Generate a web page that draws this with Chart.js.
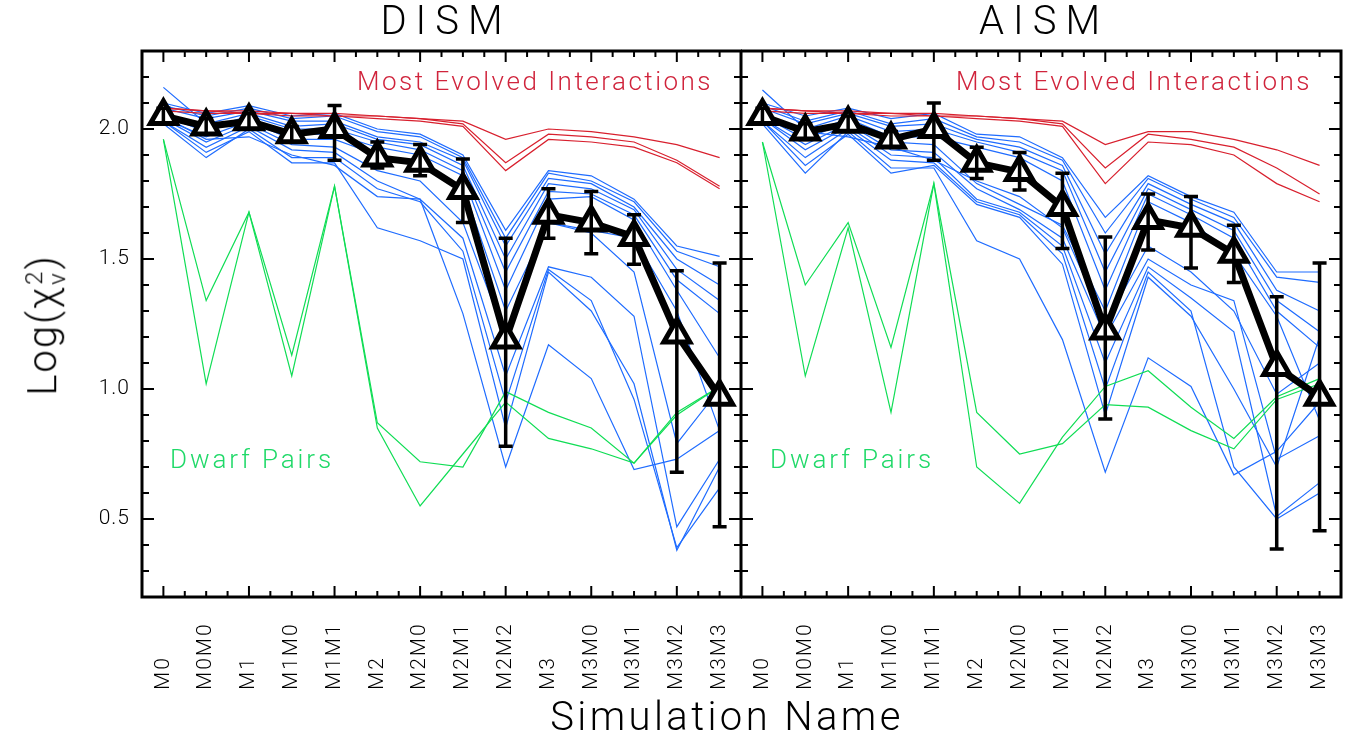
<!DOCTYPE html>
<html>
<head>
<meta charset="utf-8">
<title>Log(χ²ν) by simulation</title>
<script src="https://cdn.jsdelivr.net/npm/chart.js@4.4.1/dist/chart.umd.min.js"></script>
<style>
  html, body { margin: 0; padding: 0; background: #fff; }
  #wrap { position: relative; width: 1345px; height: 738px; overflow: hidden;
          font-family: Roboto, "Open Sans", "DejaVu Sans", sans-serif; font-weight: 300; color: #000; }
  canvas { position: absolute; top: 0; }
  #cL { left: 0; }
  #cR { left: 741px; }
  .t { position: absolute; white-space: nowrap; transform: translate(-50%, -50%); line-height: 1; }
  .title { font-size: 40px; letter-spacing: 9px; }
  .red { color: #d0243c; font-size: 26px; letter-spacing: 2.5px; }
  .green { color: #1fd968; font-size: 26px; letter-spacing: 2.9px; }
  #xt { font-size: 40px; letter-spacing: 3.4px; }
  #yt { font-size: 40px; letter-spacing: 2px; transform: translate(-50%, -50%) rotate(-90deg); }
  .ss { display: inline-block; vertical-align: middle; line-height: 0.95; font-size: 24px; text-align: left; margin-left: 1px; }
</style>
</head>
<body>
<div id="wrap">
  <canvas id="cL" width="742" height="738" style="width:742px;height:738px"></canvas>
  <canvas id="cR" width="604" height="738" style="width:604px;height:738px"></canvas>
  <div class="t title" style="left:446px;top:21px">DISM</div>
  <div class="t title" style="left:1044px;top:21px">AISM</div>
  <div class="t red" style="left:535px;top:81px">Most Evolved Interactions</div>
  <div class="t red" style="left:1134px;top:81px">Most Evolved Interactions</div>
  <div class="t green" style="left:252px;top:459px">Dwarf Pairs</div>
  <div class="t green" style="left:852px;top:459px">Dwarf Pairs</div>
  <div class="t" id="xt" style="left:727px;top:717px">Simulation Name</div>
  <div class="t" id="yt" style="left:46px;top:325px">Log(χ<span class="ss">2<br>ν</span>)</div>
</div>
<script>
// Simulation names along the x axis
const categories = ['M0', 'M0M0', 'M1', 'M1M0', 'M1M1', 'M2', 'M2M0', 'M2M1', 'M2M2', 'M3', 'M3M0', 'M3M1', 'M3M2', 'M3M3'];

// Y axis range and tick values
const yMin = 0.2, yMax = 2.3;
const yMajorTicks = [0.5, 1.0, 1.5, 2.0];
const yTickLabels = ['0.5', '1.0', '1.5', '2.0'];

// ---------------- DISM ----------------
const dismMean  = [2.05, 2.01, 2.03, 1.98, 2.00, 1.89, 1.87, 1.765, 1.19, 1.67, 1.64, 1.585, 1.21, 0.97];
const dismErrLo = [2.02, 1.98, 2.00, 1.95, 1.88, 1.85, 1.82, 1.64, 0.78, 1.58, 1.52, 1.48, 0.68, 0.47];
const dismErrHi = [2.08, 2.04, 2.06, 2.01, 2.09, 1.95, 1.94, 1.885, 1.58, 1.77, 1.76, 1.67, 1.455, 1.485];

const dismRed = [
  [2.08, 2.07, 2.07, 2.06, 2.06, 2.05, 2.04, 2.03, 1.96, 2.00, 1.99, 1.97, 1.94, 1.89],
  [2.08, 2.07, 2.06, 2.06, 2.05, 2.05, 2.04, 2.02, 1.87, 1.98, 1.97, 1.95, 1.88, 1.78],
  [2.07, 2.06, 2.06, 2.05, 2.05, 2.04, 2.03, 2.01, 1.84, 1.96, 1.95, 1.93, 1.87, 1.77]
];
const dismGreen = [
  [1.96, 1.34, 1.68, 1.13, 1.78, 0.87, 0.72, 0.70, 0.99, 0.91, 0.85, 0.715, 0.91, 1.01],
  [1.96, 1.02, 1.68, 1.05, 1.78, 0.85, 0.55, 0.75, 0.95, 0.81, 0.77, 0.715, 0.90, 1.01]
];
const dismBlue = [
  [2.10, 2.06, 2.09, 2.05, 2.06, 2.00, 1.98, 1.90, 1.61, 1.84, 1.82, 1.73, 1.55, 1.51],
  [2.09, 2.05, 2.08, 2.04, 2.05, 1.99, 1.97, 1.89, 1.58, 1.83, 1.80, 1.72, 1.53, 1.47],
  [2.08, 2.04, 2.07, 2.03, 2.03, 1.97, 1.95, 1.88, 1.55, 1.81, 1.79, 1.70, 1.50, 1.40],
  [2.16, 2.02, 2.06, 2.01, 2.02, 1.96, 1.94, 1.86, 1.50, 1.79, 1.77, 1.69, 1.46, 1.34],
  [2.06, 2.00, 2.05, 2.00, 2.00, 1.95, 1.92, 1.84, 1.45, 1.76, 1.75, 1.67, 1.42, 1.29],
  [2.05, 1.99, 2.04, 1.98, 1.98, 1.93, 1.90, 1.82, 1.38, 1.73, 1.74, 1.65, 1.38, 1.12],
  [2.04, 1.97, 2.03, 1.96, 1.96, 1.90, 1.86, 1.78, 1.30, 1.64, 1.61, 1.58, 1.30, 0.84],
  [2.04, 1.95, 2.02, 1.94, 1.93, 1.84, 1.80, 1.64, 1.20, 1.64, 1.60, 1.45, 0.79, 1.00],
  [2.03, 1.93, 2.01, 1.92, 1.91, 1.80, 1.73, 1.58, 1.05, 1.47, 1.43, 1.28, 0.47, 0.73],
  [2.02, 1.89, 2.00, 1.89, 1.89, 1.77, 1.72, 1.53, 0.95, 1.46, 1.34, 0.96, 0.39, 0.62],
  [2.03, 1.91, 1.99, 1.87, 1.87, 1.62, 1.57, 1.50, 0.85, 1.45, 1.30, 1.02, 0.38, 0.70],
  [2.05, 1.96, 1.97, 1.90, 1.86, 1.74, 1.73, 1.29, 0.70, 1.17, 1.04, 0.69, 0.73, 0.84]
];

// ---------------- AISM ----------------
const aismMean  = [2.05, 1.99, 2.02, 1.96, 2.00, 1.87, 1.835, 1.70, 1.225, 1.65, 1.62, 1.52, 1.085, 0.97];
const aismErrLo = [2.02, 1.96, 1.99, 1.93, 1.88, 1.81, 1.765, 1.54, 0.885, 1.535, 1.465, 1.41, 0.385, 0.455];
const aismErrHi = [2.08, 2.02, 2.05, 1.99, 2.10, 1.93, 1.91, 1.83, 1.585, 1.75, 1.74, 1.63, 1.355, 1.485];

const aismRed = [
  [2.08, 2.07, 2.07, 2.06, 2.06, 2.05, 2.04, 2.03, 1.94, 1.99, 1.99, 1.96, 1.92, 1.86],
  [2.08, 2.07, 2.06, 2.06, 2.05, 2.05, 2.04, 2.02, 1.85, 1.98, 1.96, 1.93, 1.85, 1.75],
  [2.07, 2.06, 2.06, 2.05, 2.05, 2.04, 2.03, 2.01, 1.79, 1.95, 1.94, 1.90, 1.79, 1.72]
];
const aismGreen = [
  [1.95, 1.40, 1.64, 1.16, 1.79, 0.91, 0.75, 0.79, 0.94, 0.93, 0.84, 0.77, 0.96, 1.02],
  [1.95, 1.05, 1.62, 0.91, 1.79, 0.70, 0.56, 0.815, 1.01, 1.07, 0.93, 0.81, 0.97, 1.04]
];
const aismBlue = [
  [2.10, 2.05, 2.08, 2.04, 2.06, 1.98, 1.97, 1.89, 1.66, 1.82, 1.74, 1.68, 1.45, 1.45],
  [2.09, 2.03, 2.07, 2.02, 2.04, 1.97, 1.95, 1.88, 1.60, 1.81, 1.73, 1.66, 1.43, 1.41],
  [2.08, 2.02, 2.06, 2.01, 2.02, 1.96, 1.93, 1.86, 1.52, 1.79, 1.71, 1.64, 1.38, 1.30],
  [2.15, 2.00, 2.05, 1.99, 2.00, 1.95, 1.91, 1.84, 1.45, 1.77, 1.69, 1.61, 1.34, 1.22],
  [2.06, 1.98, 2.04, 1.97, 1.97, 1.93, 1.89, 1.80, 1.38, 1.75, 1.67, 1.58, 1.30, 1.16],
  [2.05, 1.96, 2.03, 1.95, 1.94, 1.79, 1.71, 1.63, 1.30, 1.72, 1.64, 1.52, 1.28, 0.88],
  [2.04, 1.94, 2.02, 1.92, 1.91, 1.77, 1.69, 1.58, 1.20, 1.50, 1.40, 1.34, 0.73, 0.82],
  [2.04, 1.92, 2.01, 1.90, 1.89, 1.73, 1.68, 1.55, 1.10, 1.47, 1.35, 1.22, 0.51, 0.64],
  [2.03, 1.89, 2.00, 1.88, 1.87, 1.72, 1.67, 1.52, 1.00, 1.45, 1.30, 0.70, 0.50, 0.60],
  [2.02, 1.83, 1.99, 1.85, 1.85, 1.57, 1.50, 1.19, 0.68, 1.12, 1.01, 0.67, 0.76, 0.95],
  [2.03, 1.86, 1.98, 1.83, 1.86, 1.71, 1.66, 1.48, 0.90, 1.43, 1.28, 1.00, 0.70, 1.20],
  [2.05, 1.99, 1.97, 1.93, 1.88, 1.80, 1.74, 1.62, 1.25, 1.55, 1.45, 1.30, 0.98, 1.10]
];

const BLUE = '#1f6cff';
const RED = '#d8202e';
const GREEN = '#10dd55';
const FONT = 'Roboto, "Open Sans", "DejaVu Sans", sans-serif';

function thinLine(values, color, order) {
  return { data: values, borderColor: color, borderWidth: 1.2, pointRadius: 0,
           fill: false, tension: 0, order: order };
}

function buildDatasets(mean, red, green, blue) {
  const sets = [];
  blue.forEach(v => sets.push(thinLine(v, BLUE, 4)));
  red.forEach(v => sets.push(thinLine(v, RED, 3)));
  green.forEach(v => sets.push(thinLine(v, GREEN, 2)));
  sets.push({
    data: mean, borderColor: '#000', borderWidth: 7, tension: 0, order: 0,
    pointStyle: 'triangle', pointRadius: 15, pointBorderWidth: 5,
    pointBackgroundColor: '#fff', pointBorderColor: '#000', fill: false
  });
  return sets;
}

// Frame, inward ticks, tick labels and error bars for one panel
function panelPlugin(errLo, errHi, showYLabels) {
  return {
    id: 'panelAxes',
    afterDatasetsDraw(chart) {
      const { ctx, scales: { x, y } } = chart;
      ctx.save();
      ctx.strokeStyle = '#000';
      ctx.lineWidth = 3.5;
      ctx.lineCap = 'butt';
      for (let i = 0; i < categories.length; i++) {
        const px = x.getPixelForValue(i);
        const yl = y.getPixelForValue(errLo[i]);
        const yh = y.getPixelForValue(errHi[i]);
        ctx.beginPath();
        ctx.moveTo(px, yl); ctx.lineTo(px, yh);
        ctx.moveTo(px - 7, yl); ctx.lineTo(px + 7, yl);
        ctx.moveTo(px - 7, yh); ctx.lineTo(px + 7, yh);
        ctx.stroke();
      }
      ctx.restore();
    },
    afterDraw(chart) {
      const { ctx, chartArea: a, scales: { x, y } } = chart;
      ctx.save();
      ctx.strokeStyle = '#000';
      ctx.fillStyle = '#000';

      // x ticks every half category, longer on even categories
      ctx.lineWidth = 2;
      ctx.beginPath();
      for (let k = 0; k <= 26; k++) {
        const v = k / 2;
        const px = x.getPixelForValue(v);
        const major = (k % 4 === 0);
        const len = major ? 11 : 6;
        ctx.moveTo(px, a.bottom); ctx.lineTo(px, a.bottom - len);
        ctx.moveTo(px, a.top); ctx.lineTo(px, a.top + len);
      }
      // y ticks every 0.1, longer on multiples of 0.5
      for (let k = 3; k <= 22; k++) {
        const v = k / 10;
        const py = y.getPixelForValue(v);
        const major = (k % 5 === 0);
        const len = major ? 12 : 7;
        ctx.moveTo(a.left, py); ctx.lineTo(a.left + len, py);
        ctx.moveTo(a.right, py); ctx.lineTo(a.right - len, py);
      }
      ctx.stroke();

      // frame
      ctx.lineWidth = 3;
      ctx.strokeRect(a.left, a.top, a.right - a.left, a.bottom - a.top);

      // y tick labels
      if (showYLabels) {
        ctx.font = '300 21px ' + FONT;
        if ('letterSpacing' in ctx) ctx.letterSpacing = '1px';
        ctx.textAlign = 'right';
        ctx.textBaseline = 'middle';
        yMajorTicks.forEach((v, i) => {
          ctx.fillText(yTickLabels[i], a.left - 12, y.getPixelForValue(v));
        });
      }

      // rotated category labels, reading upward from a common baseline
      ctx.font = '300 21px ' + FONT;
      if ('letterSpacing' in ctx) ctx.letterSpacing = '2px';
      ctx.textAlign = 'left';
      ctx.textBaseline = 'middle';
      categories.forEach((name, i) => {
        const px = x.getPixelForValue(i);
        ctx.save();
        ctx.translate(px, 690);
        ctx.rotate(-Math.PI / 2);
        ctx.fillText(name, 0, 0);
        ctx.restore();
      });
      ctx.restore();
    }
  };
}

function makePanel(canvasId, mean, errLo, errHi, red, green, blue, padding, showYLabels) {
  return new Chart(document.getElementById(canvasId), {
    type: 'line',
    data: { labels: categories, datasets: buildDatasets(mean, red, green, blue) },
    options: {
      responsive: false,
      animation: false,
      devicePixelRatio: 1,
      layout: { padding: padding, autoPadding: false },
      plugins: { legend: { display: false }, tooltip: { enabled: false }, title: { display: false } },
      scales: {
        x: { type: 'category', offset: true, display: false },
        y: { type: 'linear', min: yMin, max: yMax, display: false }
      }
    },
    plugins: [panelPlugin(errLo, errHi, showYLabels)]
  });
}

makePanel('cL', dismMean, dismErrLo, dismErrHi, dismRed, dismGreen, dismBlue,
          { left: 142, right: 1, top: 51, bottom: 141 }, true);
makePanel('cR', aismMean, aismErrLo, aismErrHi, aismRed, aismGreen, aismBlue,
          { left: 0, right: 4, top: 51, bottom: 141 }, false);
</script>
</body>
</html>
